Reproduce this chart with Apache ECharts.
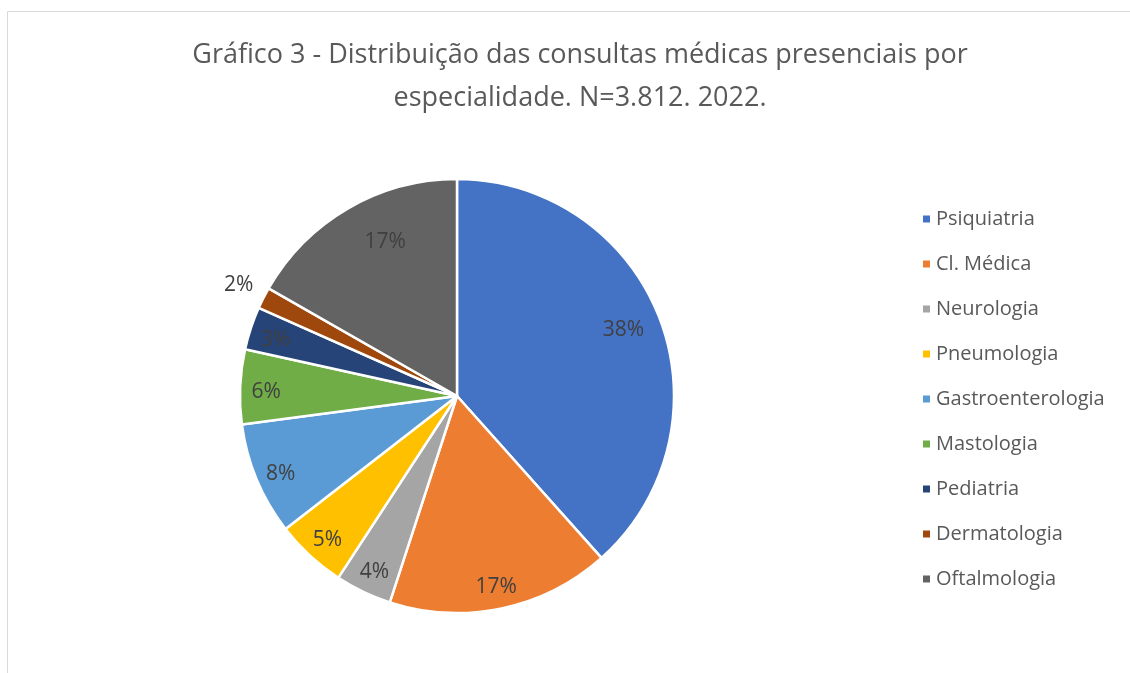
<!DOCTYPE html>
<html>
<head>
<meta charset="utf-8">
<script src="https://cdn.jsdelivr.net/npm/echarts@6/dist/echarts.min.js"></script>
<style>html,body{margin:0;padding:0;background:#fff;}#c{width:1130px;height:673px;}</style>
</head>
<body>
<div id="c"></div>
<script>
var categories = ['Psiquiatria','Cl. Médica','Neurologia','Pneumologia','Gastroenterologia','Mastologia','Pediatria','Dermatologia','Oftalmologia'];
var values = [1464, 633, 160, 202, 320, 212, 122, 61, 638];
var colors = ['#4472C4','#ED7D31','#A5A5A5','#FFC000','#5B9BD5','#70AD47','#264478','#9E480E','#636363'];
var titleText = 'Gráfico 3 - Distribuição das consultas médicas presenciais por\nespecialidade. N=3.812. 2022.';

var FONT = 'Open Sans';
var chart = echarts.init(document.getElementById('c'), null, {renderer:'canvas'});
var pieData = categories.map(function(n,i){ return {name:n, value:values[i], itemStyle:{color:colors[i]}}; });
var labelOffsets = {'Psiquiatria':[-12,2], 'Oftalmologia':[24,11], 'Dermatologia':[-48,-25]};
var labelData = categories.map(function(n,i){
  return {name:n, value:values[i], label:{offset: labelOffsets[n] || [0,4]}};
});
chart.setOption({
  backgroundColor:'#fff',
  graphic:[{type:'rect', shape:{x:7.5,y:11.5,width:1200,height:800}, style:{fill:'none', stroke:'#d9d9d9', lineWidth:1}, silent:true, z:-10}],
  title:{text:titleText, left:575, top:29, textAlign:'center',
    textStyle:{fontFamily:FONT, fontSize:27, fontWeight:'normal', color:'#595959', lineHeight:43, align:'center'}},
  legend:{orient:'vertical', left:916, top:204, itemWidth:9, itemHeight:9, itemGap:25, icon:'rect',
    data:categories,
    textStyle:{fontFamily:FONT, fontSize:20, color:'#595959', lineHeight:20}},
  series:[
    {type:'pie', center:[457,396], radius:[0,217], startAngle:90, clockwise:true,
     avoidLabelOverlap:false, label:{show:false}, labelLine:{show:false},
     itemStyle:{borderColor:'#fff', borderWidth:2.5},
     emphasis:{disabled:true}, data:pieData},
    {type:'pie', center:[457,396], radius:[160,216], startAngle:90, clockwise:true, silent:true,
     avoidLabelOverlap:false, legendHoverLink:false,
     itemStyle:{color:'rgba(0,0,0,0)', borderWidth:0},
     label:{show:true, position:'inside', fontFamily:FONT, fontSize:21, color:'#404040',
       formatter:function(p){return Math.round(p.percent)+'%';}},
     labelLine:{show:false}, emphasis:{disabled:true}, data:labelData}
  ]
});
</script>
</body>
</html>
